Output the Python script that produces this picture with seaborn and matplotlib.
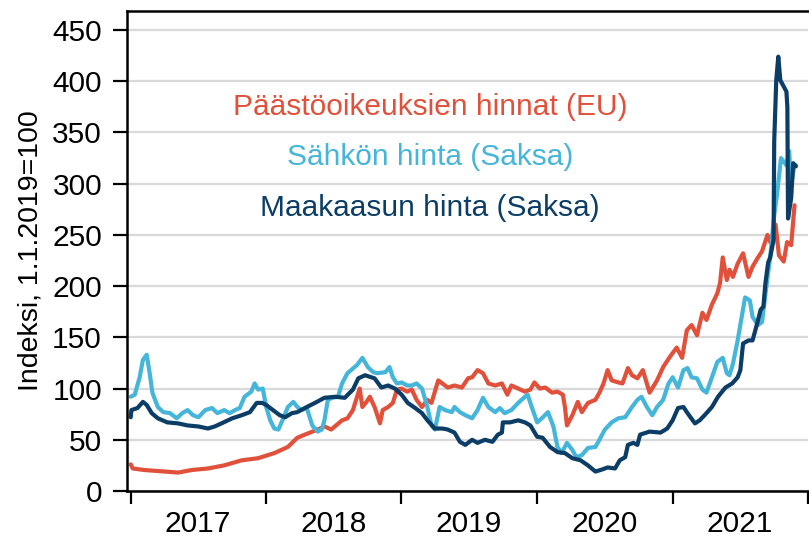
import pandas as pd
import matplotlib
matplotlib.use("Agg")
import matplotlib.pyplot as plt
import matplotlib.dates as mdates
import seaborn as sns

# time as decimal years, values as index (1.1.2019 = 100)
eua_t = [2017.00, 2017.015, 2017.10, 2017.20, 2017.35, 2017.45, 2017.57, 2017.69, 2017.82, 2017.94,
         2018.06, 2018.16, 2018.23, 2018.285, 2018.38, 2018.43, 2018.48, 2018.56, 2018.60, 2018.64,
         2018.69, 2018.71, 2018.74, 2018.765, 2018.80, 2018.84, 2018.86, 2018.90, 2018.935, 2018.965,
         2019.00, 2019.04, 2019.075, 2019.11, 2019.15, 2019.19, 2019.22, 2019.27, 2019.30, 2019.34,
         2019.39, 2019.445, 2019.49, 2019.52, 2019.56, 2019.60, 2019.64, 2019.69, 2019.74, 2019.78,
         2019.81, 2019.86, 2019.91, 2019.95, 2019.98, 2020.02, 2020.06, 2020.11, 2020.15, 2020.19,
         2020.205, 2020.22, 2020.24, 2020.26, 2020.30, 2020.33, 2020.375, 2020.43, 2020.46, 2020.49,
         2020.52, 2020.55, 2020.60, 2020.63, 2020.67, 2020.70, 2020.74, 2020.78, 2020.83, 2020.885,
         2020.93, 2020.98, 2021.03, 2021.07, 2021.105, 2021.14, 2021.18, 2021.22, 2021.25, 2021.29,
         2021.33, 2021.35, 2021.37, 2021.40, 2021.42, 2021.445, 2021.48, 2021.52, 2021.56, 2021.59,
         2021.63, 2021.66, 2021.70, 2021.72, 2021.76, 2021.785, 2021.82, 2021.845, 2021.875, 2021.90]
eua_v = [26, 22, 20.5, 19.5, 18, 20.5, 22, 25, 30, 32,
         37, 43, 52, 55, 60, 63, 60, 69, 71, 79,
         100, 82, 87, 92, 82, 66, 79, 82, 86, 99,
         100, 97, 99, 89, 82, 89, 86, 108, 105, 101,
         103, 101, 110, 111, 118, 115, 105, 103, 105, 94,
         103, 100, 97, 99, 106, 100, 101, 96, 97, 94,
         82, 64, 69, 74, 87, 77, 86, 89, 96, 105,
         118, 108, 106, 105, 120, 113, 110, 118, 96, 108,
         121, 131, 140, 130, 157, 162, 152, 174, 167, 182,
         193, 203, 228, 206, 216, 209, 222, 232, 209, 219,
         228, 234, 250, 243, 260, 230, 224, 243, 240, 279]

power_t = [2017.00, 2017.03, 2017.066, 2017.09, 2017.118, 2017.14, 2017.16, 2017.20, 2017.24, 2017.29,
           2017.34, 2017.38, 2017.42, 2017.46, 2017.50, 2017.55, 2017.60, 2017.64, 2017.69, 2017.73,
           2017.77, 2017.805, 2017.84, 2017.89, 2017.915, 2017.94, 2017.975, 2018.00, 2018.03, 2018.06,
           2018.09, 2018.12, 2018.16, 2018.20, 2018.23, 2018.26, 2018.30, 2018.34, 2018.38, 2018.41,
           2018.43, 2018.455, 2018.49, 2018.53, 2018.56, 2018.60, 2018.67, 2018.71, 2018.75, 2018.79,
           2018.82, 2018.88, 2018.91, 2018.935, 2018.965, 2019.00, 2019.04, 2019.075, 2019.11, 2019.15,
           2019.19, 2019.22, 2019.245, 2019.28, 2019.32, 2019.37, 2019.39, 2019.43, 2019.47, 2019.52,
           2019.56, 2019.60, 2019.64, 2019.69, 2019.725, 2019.76, 2019.81, 2019.86, 2019.91, 2019.93,
           2019.96, 2020.00, 2020.035, 2020.08, 2020.12, 2020.15, 2020.18, 2020.22, 2020.26, 2020.29,
           2020.33, 2020.375, 2020.43, 2020.46, 2020.50, 2020.55, 2020.60, 2020.65, 2020.70, 2020.74,
           2020.77, 2020.81, 2020.85, 2020.885, 2020.93, 2020.97, 2021.00, 2021.04, 2021.08, 2021.11,
           2021.14, 2021.18, 2021.22, 2021.25, 2021.29, 2021.33, 2021.37, 2021.40, 2021.42, 2021.445,
           2021.48, 2021.51, 2021.535, 2021.57, 2021.59, 2021.63, 2021.66, 2021.70, 2021.72, 2021.75,
           2021.77, 2021.80, 2021.84, 2021.86, 2021.875, 2021.895, 2021.91]
power_v = [92, 94, 111, 128, 133, 115, 96, 82, 77, 76,
           71, 76, 79, 74, 72, 79, 81, 76, 79, 76,
           79, 81, 92, 97, 105, 99, 100, 82, 69, 61,
           60, 69, 82, 87, 82, 79, 81, 64, 58, 60,
           69, 89, 91, 92, 105, 115, 123, 130, 121, 116,
           115, 116, 121, 111, 105, 106, 103, 103, 105, 100,
           82, 64, 60, 82, 79, 77, 82, 77, 74, 71,
           79, 91, 82, 77, 81, 76, 79, 86, 92, 94,
           82, 67, 71, 77, 63, 43, 37, 47, 40, 33,
           35, 42, 43, 50, 60, 67, 71, 72, 82, 89,
           92, 82, 74, 82, 89, 105, 111, 101, 118, 120,
           111, 110, 99, 96, 111, 126, 130, 115, 113, 124,
           147, 170, 189, 186, 170, 162, 165, 208, 228, 269,
           289, 325, 318, 332, 299, 315, 318]

gas_t = [2017.00, 2017.005, 2017.05, 2017.09, 2017.118, 2017.155, 2017.20, 2017.27, 2017.35, 2017.42,
         2017.50, 2017.57, 2017.62, 2017.67, 2017.75, 2017.82, 2017.88, 2017.93, 2017.97, 2018.00,
         2018.05, 2018.10, 2018.14, 2018.19, 2018.23, 2018.285, 2018.36, 2018.43, 2018.51, 2018.58,
         2018.64, 2018.68, 2018.73, 2018.80, 2018.85, 2018.90, 2018.95, 2019.00, 2019.045, 2019.10,
         2019.15, 2019.19, 2019.245, 2019.30, 2019.34, 2019.39, 2019.43, 2019.47, 2019.52, 2019.56,
         2019.615, 2019.67, 2019.71, 2019.74, 2019.747, 2019.80, 2019.86, 2019.91, 2019.95, 2020.00,
         2020.04, 2020.095, 2020.15, 2020.205, 2020.26, 2020.32, 2020.375, 2020.43, 2020.48, 2020.52,
         2020.575, 2020.61, 2020.65, 2020.67, 2020.71, 2020.74, 2020.76, 2020.83, 2020.91, 2020.96,
         2021.00, 2021.04, 2021.08, 2021.11, 2021.165, 2021.20, 2021.25, 2021.29, 2021.335, 2021.39,
         2021.44, 2021.48, 2021.50, 2021.52, 2021.56, 2021.59, 2021.625, 2021.65, 2021.67, 2021.685,
         2021.705, 2021.72, 2021.745, 2021.75, 2021.765, 2021.78, 2021.795, 2021.84, 2021.847, 2021.852,
         2021.875, 2021.89, 2021.91]
gas_v = [72, 79, 81, 87, 84, 76, 71, 67, 66, 64,
         63, 61, 63, 66, 71, 74, 77, 86, 86, 84,
         79, 74, 72, 76, 77, 81, 86, 91, 92, 91,
         99, 110, 113, 110, 101, 103, 100, 94, 86, 81,
         76, 69, 61, 61, 60, 57, 48, 45, 50, 47,
         50, 48, 55, 57, 67, 67, 69, 67, 64, 53,
         52, 43, 38, 37, 32, 30, 25, 19, 21, 23,
         22, 30, 33, 45, 47, 45, 55, 58, 57, 61,
         69, 81, 82, 76, 66, 69, 76, 82, 92, 101,
         105, 111, 118, 144, 147, 147, 164, 177, 180, 203,
         223, 228, 245, 342, 401, 424, 401, 390, 375, 266,
         286, 320, 317]

series_names = ["Päästöoikeuksien hinnat (EU)", "Sähkön hinta (Saksa)", "Maakaasun hinta (Saksa)"]
colors = ["#E1503A", "#45B5DA", "#0B3D66"]
label_y = [375, 326, 276]
label_x = 2019.21


def to_date(t):
    return pd.Timestamp("2017-01-01") + pd.to_timedelta((pd.Series(t) - 2017) * 365.25, unit="D")


frames = []
for name, t, v in zip(series_names, [eua_t, power_t, gas_t], [eua_v, power_v, gas_v]):
    frames.append(pd.DataFrame({"date": to_date(t), "value": v, "series": name}))
df = pd.concat(frames, ignore_index=True)

sns.set_style("white")
plt.rcParams["font.family"] = ["Liberation Sans", "DejaVu Sans"]

fig = plt.figure(figsize=(8.09, 5.37), dpi=100)
ax = fig.add_axes([127 / 809, 1 - 491 / 537, 681 / 809, 480 / 537])

ax.grid(axis="y", color="#d9d9d9", linewidth=1.6)
ax.set_axisbelow(True)

sns.lineplot(data=df, x="date", y="value", hue="series", palette=dict(zip(series_names, colors)),
             hue_order=series_names, estimator=None, linewidth=3.0, legend=False, ax=ax)

for name, c, y in zip(series_names, colors, label_y):
    ax.text(to_date([label_x])[0], y, name, color=c, fontsize=21.5, ha="center", va="center")

ax.set_xlim(pd.Timestamp("2016-12-22"), pd.Timestamp("2022-01-01"))
ax.set_ylim(0, 468.6)
ax.set_yticks(range(0, 451, 50))

ax.xaxis.set_major_locator(mdates.YearLocator())
ax.xaxis.set_major_formatter(plt.NullFormatter())
ax.xaxis.set_minor_locator(mdates.MonthLocator(bymonth=7))
ax.xaxis.set_minor_formatter(mdates.DateFormatter("%Y"))
ax.tick_params(axis="x", which="major", length=9, width=1.6, direction="out", color="black", bottom=True)
ax.tick_params(axis="x", which="minor", length=0, pad=14, labelsize=21.5, labelcolor="black", bottom=True)
ax.tick_params(axis="y", length=10, width=1.6, direction="out", color="black", pad=8,
               labelsize=21.5, labelcolor="black", left=True)

for side in ["left", "bottom", "top"]:
    ax.spines[side].set_visible(True)
    ax.spines[side].set_color("black")
    ax.spines[side].set_linewidth(1.8)
ax.spines["right"].set_visible(False)

ax.set_xlabel("")
ax.set_ylabel("Indeksi, 1.1.2019=100", fontsize=20.5, color="black")
ax.yaxis.set_label_coords(-0.123, 0.5)

fig.savefig("out.png", dpi=100)
